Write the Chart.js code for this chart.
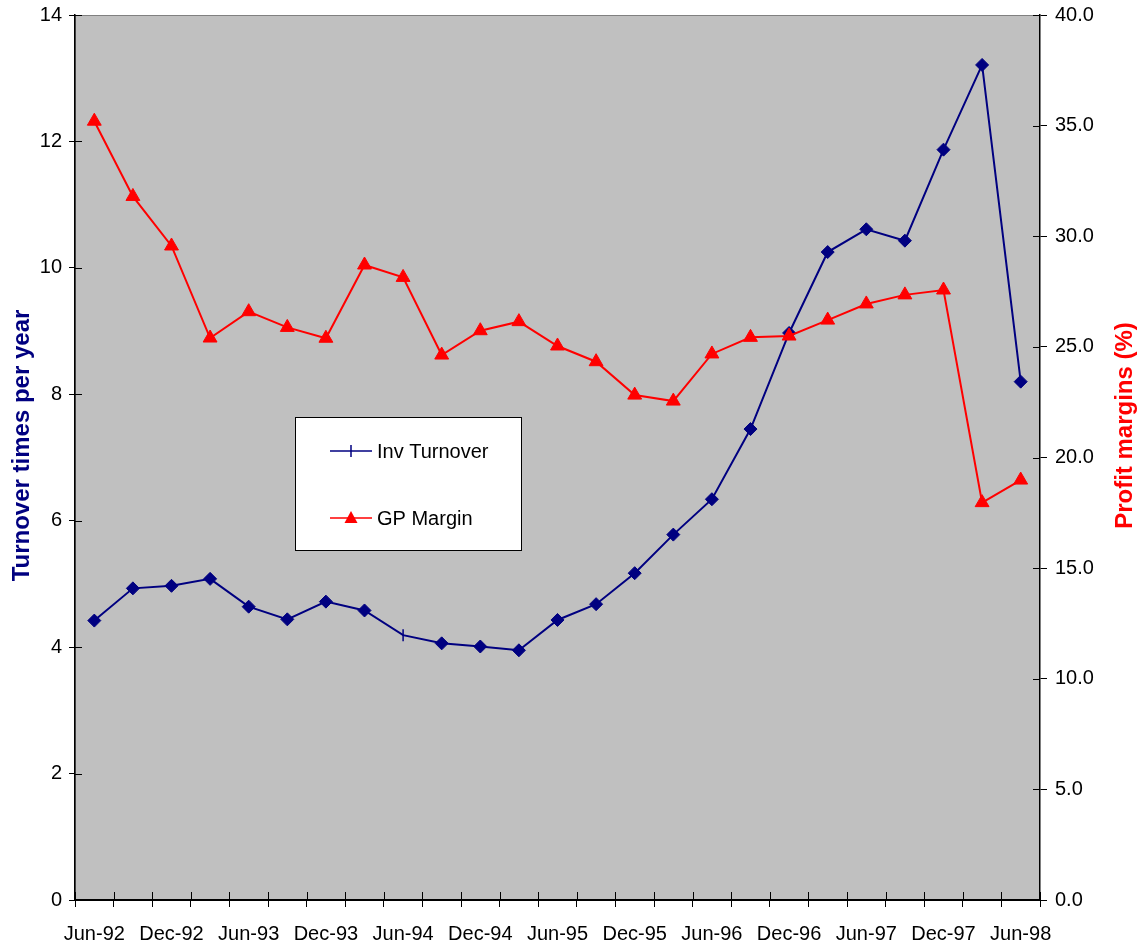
<!DOCTYPE html>
<html lang="en">
<head>
<meta charset="UTF-8"/>
<title>Inventory turnover and GP margin</title>
<script src="https://cdn.jsdelivr.net/npm/chart.js@4.4.1/dist/chart.umd.min.js"></script>
<style>
    html, body { margin: 0; padding: 0; background: #ffffff; }
    #wrap { width: 1144px; height: 951px; }
</style>
</head>
<body>
<div id="wrap"><canvas id="myChart" width="1144" height="951"></canvas></div>
<script>
    // quarterly periods, only every second one gets a label on the axis
    const quarters = [
        'Jun-92', 'Sep-92', 'Dec-92', 'Mar-93', 'Jun-93', 'Sep-93', 'Dec-93', 'Mar-94',
        'Jun-94', 'Sep-94', 'Dec-94', 'Mar-95', 'Jun-95', 'Sep-95', 'Dec-95', 'Mar-96',
        'Jun-96', 'Sep-96', 'Dec-96', 'Mar-97', 'Jun-97', 'Sep-97', 'Dec-97', 'Mar-98',
        'Jun-98'
    ];

    // turnover times per year (left axis)
    const invTurnover = [
        4.42, 4.93, 4.97, 5.08, 4.64, 4.44, 4.72, 4.58,
        4.19, 4.06, 4.01, 3.95, 4.43, 4.68, 5.17, 5.78,
        6.34, 7.45, 8.97, 10.25, 10.61, 10.43, 11.87, 13.21,
        8.20
    ];

    // gross profit margin % (right axis)
    const gpMargin = [
        35.2, 31.8, 29.56, 25.4, 26.59, 25.88, 25.39, 28.7,
        28.14, 24.63, 25.73, 26.14, 25.04, 24.33, 22.82, 22.55,
        24.68, 25.43, 25.49, 26.21, 26.94, 27.35, 27.57, 17.96,
        18.98
    ];

    const seriesNames = ['Inv Turnover', 'GP Margin'];
    const leftTitle = 'Turnover times per year';
    const rightTitle = 'Profit margins (%)';

    const NAVY = '#000080';
    const RED = '#ff0000';
    const FONT = "'Liberation Sans', Arial, sans-serif";

    // grey plot area with a thin frame
    const plotBackground = {
        id: 'plotBackground',
        beforeDraw(chart) {
            const {ctx, chartArea: a} = chart;
            ctx.save();
            ctx.fillStyle = '#c0c0c0';
            ctx.fillRect(a.left, a.top, a.right - a.left, a.bottom - a.top);
            ctx.strokeStyle = '#808080';
            ctx.lineWidth = 1;
            ctx.strokeRect(a.left + 0.5, a.top + 0.5, a.right - a.left - 1, a.bottom - a.top - 1);
            ctx.restore();
        }
    };

    // excel style tick marks that cross the axis line
    const innerTicks = {
        id: 'innerTicks',
        afterDatasetsDraw(chart) {
            const {ctx, chartArea: a, scales} = chart;
            ctx.save();
            ctx.strokeStyle = '#000';
            ctx.lineWidth = 1;
            ctx.beginPath();
            const x = scales.x;
            const step = x.getPixelForValue(1) - x.getPixelForValue(0);
            for (let i = 0; i <= quarters.length; i++) {
                const px = Math.round(x.getPixelForValue(i) - step / 2) + 0.5;
                ctx.moveTo(px, a.bottom);
                ctx.lineTo(px, a.bottom - 8);
            }
            for (const t of scales.y.ticks) {
                const py = Math.round(scales.y.getPixelForValue(t.value)) + 0.5;
                ctx.moveTo(a.left, py);
                ctx.lineTo(a.left + 7, py);
            }
            for (const t of scales.y1.ticks) {
                const py = Math.round(scales.y1.getPixelForValue(t.value)) + 0.5;
                ctx.moveTo(a.right, py);
                ctx.lineTo(a.right - 7, py);
            }
            ctx.stroke();
            ctx.restore();
        }
    };

    // both axis titles read bottom to top, so draw them by hand
    const axisTitles = {
        id: 'axisTitles',
        afterDraw(chart) {
            const {ctx, chartArea: a} = chart;
            const mid = (a.top + a.bottom) / 2;
            ctx.save();
            ctx.font = 'bold 24px ' + FONT;
            ctx.textAlign = 'center';
            ctx.textBaseline = 'middle';

            ctx.save();
            ctx.translate(a.left - 53, mid - 12);
            ctx.rotate(-Math.PI / 2);
            ctx.fillStyle = NAVY;
            ctx.fillText(leftTitle, 0, 0);
            ctx.restore();

            ctx.save();
            ctx.translate(a.right + 85, mid - 32);
            ctx.rotate(-Math.PI / 2);
            ctx.fillStyle = RED;
            ctx.fillText(rightTitle, 0, 0);
            ctx.restore();

            ctx.restore();
        }
    };

    // boxed legend sitting inside the plot area
    const boxLegend = {
        id: 'boxLegend',
        afterDraw(chart) {
            const {ctx, chartArea: a} = chart;
            const bx = a.left + 220, by = a.top + 402, bw = 226, bh = 133;
            ctx.save();
            ctx.fillStyle = '#ffffff';
            ctx.fillRect(bx, by, bw, bh);
            ctx.strokeStyle = '#000';
            ctx.lineWidth = 1;
            ctx.strokeRect(bx + 0.5, by + 0.5, bw, bh);

            const rows = [by + 34, by + 101];
            const colors = [NAVY, RED];
            ctx.font = '20px ' + FONT;
            ctx.textBaseline = 'middle';
            rows.forEach((y, i) => {
                ctx.strokeStyle = colors[i];
                ctx.fillStyle = colors[i];
                ctx.lineWidth = 1.5;
                ctx.beginPath();
                ctx.moveTo(bx + 35, y);
                ctx.lineTo(bx + 77, y);
                ctx.stroke();
                const cx = bx + 56;
                if (i === 0) {
                    ctx.beginPath();
                    ctx.moveTo(cx, y - 6);
                    ctx.lineTo(cx, y + 6);
                    ctx.stroke();
                } else {
                    ctx.beginPath();
                    ctx.moveTo(cx, y - 7);
                    ctx.lineTo(cx + 6.5, y + 5);
                    ctx.lineTo(cx - 6.5, y + 5);
                    ctx.closePath();
                    ctx.fill();
                }
                ctx.fillStyle = '#000';
                ctx.fillText(seriesNames[i], bx + 82, y + 1);
            });
            ctx.restore();
        }
    };

    Chart.defaults.font.family = FONT;
    Chart.defaults.font.size = 20;
    Chart.defaults.color = '#000';

    const ctx = document.getElementById('myChart').getContext('2d');
    new Chart(ctx, {
        type: 'line',
        data: {
            labels: quarters,
            datasets: [
                {
                    label: seriesNames[0],
                    data: invTurnover,
                    yAxisID: 'y',
                    borderColor: NAVY,
                    backgroundColor: NAVY,
                    borderWidth: 2,
                    pointStyle: (c) => c.dataIndex === 8 ? 'line' : 'rectRot',
                    pointRotation: (c) => c.dataIndex === 8 ? 90 : 0,
                    pointRadius: (c) => c.dataIndex === 8 ? 6 : 6.5,
                    pointBorderWidth: (c) => c.dataIndex === 8 ? 1.5 : 1,
                    tension: 0,
                    order: 1
                },
                {
                    label: seriesNames[1],
                    data: gpMargin,
                    yAxisID: 'y1',
                    borderColor: RED,
                    backgroundColor: RED,
                    borderWidth: 2,
                    pointStyle: 'triangle',
                    pointRadius: 8,
                    pointBorderWidth: 1,
                    tension: 0,
                    order: 0
                }
            ]
        },
        options: {
            responsive: false,
            animation: false,
            events: [],
            layout: {
                padding: {top: 15, right: 0, bottom: 0, left: 0}
            },
            plugins: {
                legend: {display: false},
                tooltip: {enabled: false}
            },
            scales: {
                x: {
                    type: 'category',
                    offset: true,
                    grid: {
                        offset: true,
                        drawOnChartArea: false,
                        tickLength: 7,
                        color: '#000'
                    },
                    border: {color: '#000', width: 2},
                    ticks: {
                        autoSkip: false,
                        maxRotation: 0,
                        padding: 15,
                        callback: function (value, index) {
                            return index % 2 === 0 ? this.getLabelForValue(value) : '';
                        }
                    },
                    afterFit: (scale) => {
                        scale.height = 51;
                        scale.paddingLeft = 0;
                        scale.paddingRight = 0;
                    }
                },
                y: {
                    position: 'left',
                    min: 0,
                    max: 14,
                    ticks: {stepSize: 2, padding: 7},
                    grid: {
                        drawOnChartArea: false,
                        tickLength: 6,
                        color: '#000'
                    },
                    border: {color: '#000', width: 1.5},
                    afterFit: (scale) => {
                        scale.width = 75;
                        scale.paddingTop = 0;
                        scale.paddingBottom = 0;
                    }
                },
                y1: {
                    position: 'right',
                    min: 0,
                    max: 40,
                    ticks: {
                        stepSize: 5,
                        padding: 8,
                        callback: (v) => v.toFixed(1)
                    },
                    grid: {
                        drawOnChartArea: false,
                        tickLength: 7,
                        color: '#000'
                    },
                    border: {color: '#000', width: 1.5},
                    afterFit: (scale) => {
                        scale.width = 104;
                        scale.paddingTop = 0;
                        scale.paddingBottom = 0;
                    }
                }
            }
        },
        plugins: [plotBackground, innerTicks, axisTitles, boxLegend]
    });
</script>
</body>
</html>
